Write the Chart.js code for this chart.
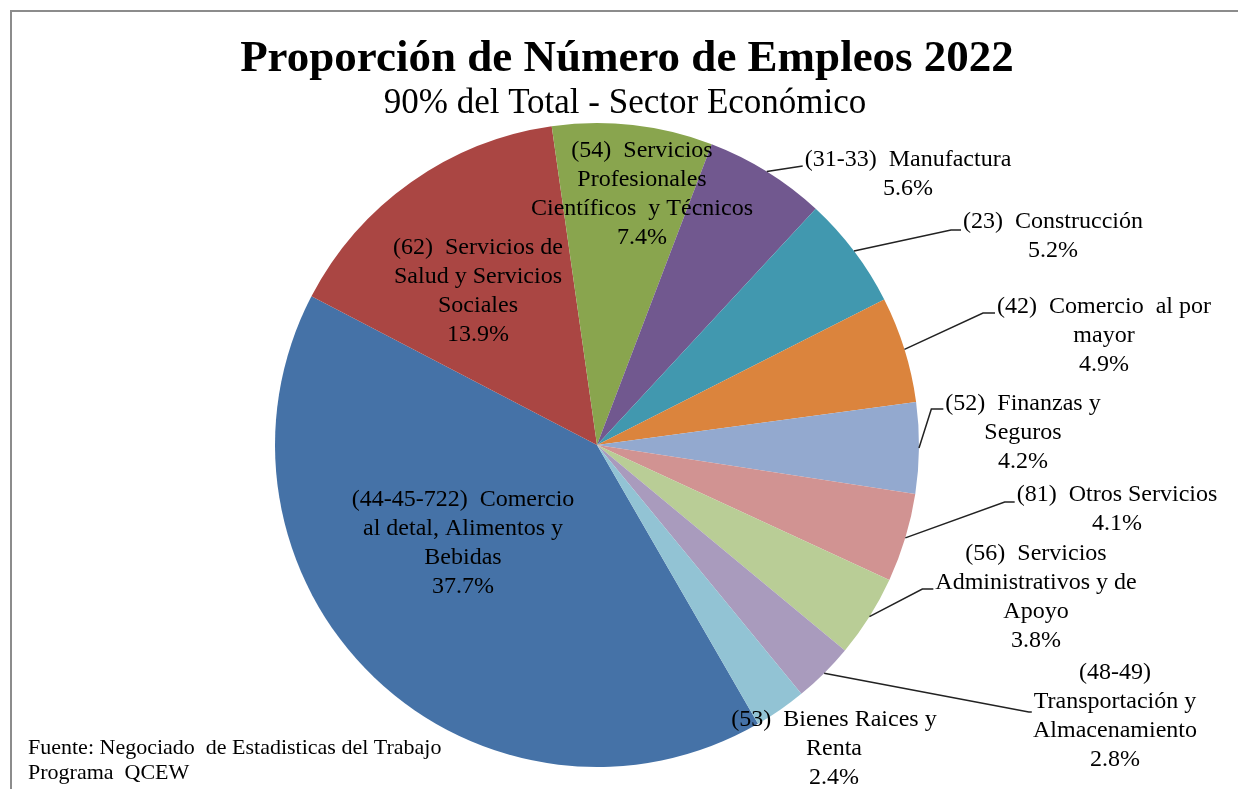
<!DOCTYPE html>
<html>
<head>
<meta charset="utf-8">
<script src="https://cdn.jsdelivr.net/npm/chart.js@4"></script>
<style>
  body { margin: 0; background: #fff; }
  #wrap { width: 1238px; height: 789px; position: relative; }
</style>
</head>
<body>
<div id="wrap"><canvas id="empleos"></canvas></div>
<script>
const chartTitle = "Proporción de Número de Empleos 2022";
const chartSubtitle = "90% del Total - Sector Económico";
const sourceNote = ["Fuente: Negociado  de Estadisticas del Trabajo", "Programa  QCEW"];

const sectors = [
  "(44-45-722) Comercio al detal, Alimentos y Bebidas",
  "(62) Servicios de Salud y Servicios Sociales",
  "(54) Servicios Profesionales Científicos y Técnicos",
  "(31-33) Manufactura",
  "(23) Construcción",
  "(42) Comercio al por mayor",
  "(52) Finanzas y Seguros",
  "(81) Otros Servicios",
  "(56) Servicios Administrativos y de Apoyo",
  "(48-49) Transportación y Almacenamiento",
  "(53) Bienes Raices y Renta",
];

// percent of jobs
const shares = [37.7, 13.9, 7.4, 5.6, 5.2, 4.9, 4.2, 4.1, 3.8, 2.8, 2.4];

// label text as it is wrapped on the chart
const labelLines = [
  ["(44-45-722)  Comercio", "al detal, Alimentos y", "Bebidas"],
  ["(62)  Servicios de", "Salud y Servicios", "Sociales"],
  ["(54)  Servicios", "Profesionales", "Científicos  y Técnicos"],
  ["(31-33)  Manufactura"],
  ["(23)  Construcción"],
  ["(42)  Comercio  al por", "mayor"],
  ["(52)  Finanzas y", "Seguros"],
  ["(81)  Otros Servicios"],
  ["(56)  Servicios", "Administrativos y de", "Apoyo"],
  ["(48-49)", "Transportación y", "Almacenamiento"],
  ["(53)  Bienes Raices y", "Renta"],
];

const sliceColors = [
  "#4572A7", "#AA4643", "#89A54E", "#71588F", "#4198AF", "#DB843D",
  "#93A9CF", "#D19392", "#B9CD96", "#A99BBD", "#92C3D4",
];

// where each label sits: offset of the text block from the pie centre,
// and which line the leader line points to (null = no leader)
const labelPlace = [
  { dx: -134, dy: 55, lead: null },
  { dx: -119, dy: -197, lead: null },
  { dx: 45, dy: -294, lead: null },
  { dx: 311, dy: -285, lead: 0, tail: 0, ly: 6 },
  { dx: 456, dy: -223, lead: 0, tail: 10, ly: 8 },
  { dx: 507, dy: -138, lead: 0, tail: 12, ly: 6 },
  { dx: 426, dy: -41, lead: 0, tail: 12, ly: 5 },
  { dx: 520, dy: 50, lead: 0, tail: 10, ly: 7 },
  { dx: 439, dy: 109, lead: 1, tail: 11, ly: 6 },
  { dx: 518, dy: 228, lead: 1, tail: 3, ly: 10 },
  { dx: 237, dy: 275, lead: null },
];

const LINE_H = 29;
const LABEL_FONT = "24px 'Liberation Serif', 'Times New Roman', serif";

const frameAndText = {
  id: "frameAndText",
  beforeDraw(chart) {
    const ctx = chart.ctx;
    ctx.save();
    ctx.fillStyle = "#fff";
    ctx.fillRect(0, 0, chart.width, chart.height);
    ctx.strokeStyle = "#8c8c8c";
    ctx.lineWidth = 2;
    ctx.strokeRect(11, 11, chart.width + 20, chart.height + 20);
    ctx.restore();
  },
  afterDraw(chart) {
    const ctx = chart.ctx;
    ctx.save();
    ctx.fillStyle = "#000";
    ctx.textAlign = "center";
    ctx.textBaseline = "middle";
    ctx.font = "bold 45px 'Liberation Serif', 'Times New Roman', serif";
    ctx.fillText(chartTitle, 627, 59);
    ctx.font = "35px 'Liberation Serif', 'Times New Roman', serif";
    ctx.fillText(chartSubtitle, 625, 104);

    ctx.textAlign = "left";
    ctx.font = "22px 'Liberation Serif', 'Times New Roman', serif";
    sourceNote.forEach((t, k) => ctx.fillText(t, 28, 748 + k * 25));
    ctx.restore();
  },
};

const pieLabels = {
  id: "pieLabels",
  afterDatasetsDraw(chart) {
    const ctx = chart.ctx;
    const arcs = chart.getDatasetMeta(0).data;
    ctx.save();
    ctx.font = LABEL_FONT;
    ctx.fillStyle = "#000";
    ctx.textAlign = "center";
    ctx.textBaseline = "middle";
    ctx.strokeStyle = "#222";
    ctx.lineWidth = 1.5;

    arcs.forEach((arc, i) => {
      const { x, y, startAngle, endAngle, outerRadius } = arc.getProps(
        ["x", "y", "startAngle", "endAngle", "outerRadius"], true
      );
      const place = labelPlace[i];
      const lines = labelLines[i].concat(shares[i].toFixed(1) + "%");
      const cx = x + place.dx;
      const top = y + place.dy;

      lines.forEach((t, k) => ctx.fillText(t, cx, top + k * LINE_H));

      if (place.lead !== null) {
        const mid = (startAngle + endAngle) / 2;
        const sx = x + Math.cos(mid) * outerRadius;
        const sy = y + Math.sin(mid) * outerRadius;
        const w = ctx.measureText(lines[place.lead]).width;
        const ex = cx - w / 2 - 2;
        const ey = top + place.lead * LINE_H + place.ly;
        ctx.beginPath();
        ctx.moveTo(sx, sy);
        ctx.lineTo(ex - place.tail, ey);
        ctx.lineTo(ex, ey);
        ctx.stroke();
      }
    });
    ctx.restore();
  },
};

new Chart(document.getElementById("empleos"), {
  type: "pie",
  data: {
    labels: sectors,
    datasets: [
      {
        data: shares,
        backgroundColor: sliceColors,
        borderWidth: 0,
        hoverOffset: 0,
        offset: 0,
      },
    ],
  },
  options: {
    responsive: true,
    maintainAspectRatio: false,
    animation: false,
    rotation: 150,
    layout: {
      padding: { top: 123, bottom: 22, left: 275, right: 319 },
    },
    plugins: {
      legend: { display: false },
      tooltip: { enabled: false },
      title: { display: false },
    },
  },
  plugins: [frameAndText, pieLabels],
});
</script>
</body>
</html>
